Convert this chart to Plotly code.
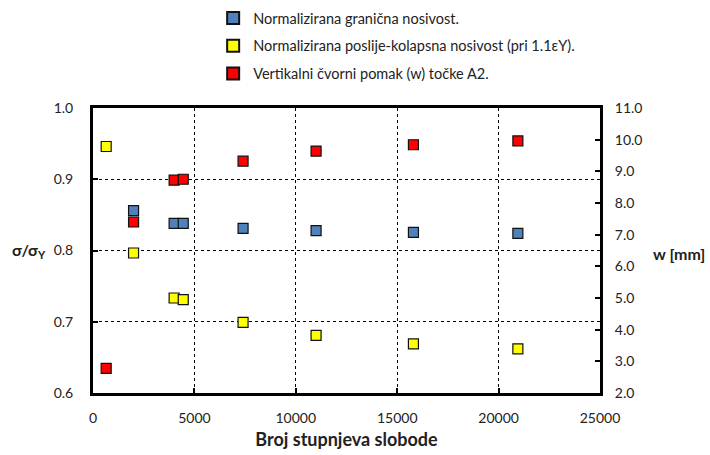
import plotly.graph_objects as go

# Degrees of freedom of each mesh
dof = [650, 2000, 4000, 4450, 7400, 11000, 15800, 20950]

# Normalized ultimate strength (sigma / sigma_Y)
ultimate = [None, 0.856, 0.838, 0.838, 0.831, 0.828, 0.8255, 0.824]
# Normalized post-collapse strength at 1.1 eps_Y
post_collapse = [0.946, 0.7965, 0.7333, 0.731, 0.699, 0.681, 0.669, 0.662]
# Vertical nodal displacement w [mm] of point A2
displacement = [2.78, 7.40, 8.72, 8.75, 9.32, 9.64, 9.84, 9.96]

names = [
    "Normalizirana granična nosivost.",
    "Normalizirana poslije-kolapsna nosivost (pri 1.1εY).",
    "Vertikalni čvorni pomak (w) točke A2.",
]
colors = ["#4F81BD", "#FFFF00", "#FF0000"]

FONT = "Lato"
TXT = "#222222"

fig = go.Figure()
series = [(ultimate, "y"), (post_collapse, "y"), (displacement, "y2")]
for i, ((vals, ax), name, col) in enumerate(zip(series, names, colors)):
    fig.add_trace(go.Scatter(
        x=dof, y=vals, yaxis=ax, mode="markers", name=name,
        legendgroup=f"g{i}",
        marker=dict(symbol="square", size=10, color=col,
                    line=dict(color="#111111", width=1.2)),
    ))

axis_common = dict(
    showline=True, linecolor="black", linewidth=3,
    ticks="inside", ticklen=5, tickwidth=2, tickcolor="black",
    tickfont=dict(family=FONT, size=14, color=TXT),
    zeroline=False, automargin=False,
)

fig.update_layout(
    width=710, height=455,
    margin=dict(l=93, r=110, t=108, b=62, autoexpand=False),
    plot_bgcolor="white", paper_bgcolor="white",
    font=dict(family=FONT, size=14, color=TXT),
    showlegend=True,
    legend=dict(
        x=0.237, y=1.372, xanchor="left", yanchor="top",
        font=dict(family=FONT, size=14.5, color=TXT),
        tracegroupgap=6, itemsizing="constant",
        bgcolor="rgba(0,0,0,0)",
    ),
    xaxis=dict(
        range=[0, 25000], dtick=5000, tickformat="d",
        showgrid=True, gridcolor="black", griddash="dot", gridwidth=1,
        mirror=True, ticklabelstandoff=10,
        title=dict(text="<b>Broj stupnjeva slobode</b>",
                   font=dict(family=FONT, size=18, color=TXT), standoff=9),
        **axis_common,
    ),
    yaxis=dict(
        range=[0.6, 1.0], dtick=0.1, tickformat=".1f",
        showgrid=True, gridcolor="black", griddash="dot", gridwidth=1,
        ticklabelstandoff=14,
        **axis_common,
    ),
    yaxis2=dict(
        range=[2.0, 11.0], dtick=1, tickformat=".1f",
        overlaying="y", side="right", showgrid=False,
        ticklabelstandoff=9,
        **axis_common,
    ),
)

# Horizontal axis titles
fig.add_annotation(
    x=0, y=0.5, xref="paper", yref="paper", xanchor="right", xshift=-45,
    text="<b>σ/σ<sub>Y</sub></b>", showarrow=False,
    font=dict(family=FONT, size=16, color=TXT),
)
fig.add_annotation(
    x=1, y=0.49, xref="paper", yref="paper", xanchor="left", xshift=51,
    text="<b>w [mm]</b>", showarrow=False,
    font=dict(family=FONT, size=16, color=TXT),
)

fig.write_html("out.html")
